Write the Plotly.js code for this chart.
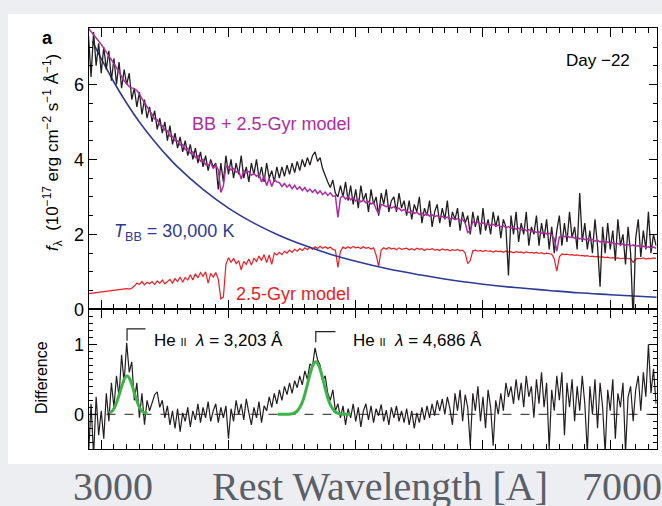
<!DOCTYPE html>
<html>
<head>
<meta charset="utf-8">
<script src="https://cdn.plot.ly/plotly-3.0.1.min.js"></script>
<style>html,body{margin:0;padding:0;background:#eceef2;}#chart{width:662px;height:506px;}</style>
</head>
<body>
<div id="chart"></div>
<script>
// ---- data ----
const wlStart = 2900, wlStep = 20;   // rest wavelength grid (Å)

const observedFlux = [
 7.3, 6.2, 7.4, 6.5, 7.1, 6.3, 7.0, 6.4, 6.9, 6.1, 6.7, 6.0, 6.6, 5.9, 6.4, 6.0, 6.3, 5.6, 5.9, 5.4, 5.8, 5.2, 5.6, 5.1, 5.4,
 5.0, 5.3, 4.8, 5.1, 4.7, 5.0, 4.5, 4.9, 4.4, 4.7, 4.3, 4.6, 4.2, 4.5, 4.1, 4.4, 4.0, 4.3, 3.9, 4.2, 3.8, 4.1, 3.7, 4.0, 3.8,
 3.9, 3.2, 3.9, 3.4, 4.1, 3.6, 4.0, 3.5, 3.9, 3.6, 4.1, 3.5, 3.8, 3.4, 3.9, 3.6, 4.0, 3.5, 3.8, 3.4, 3.9, 3.5, 3.7, 3.4, 3.8,
 3.5, 3.8, 3.55, 3.85, 3.6, 3.9, 3.65, 3.95, 3.7, 4.0, 3.8, 4.05, 3.85, 4.1, 4.2, 3.95, 4.05, 3.75, 3.55, 3.4, 3.25, 3.45, 3.1, 3.0, 3.3,
 3.0, 3.4, 2.9, 3.3, 2.8, 3.2, 2.7, 3.3, 2.9, 3.1, 2.6, 3.2, 2.8, 3.0, 2.5, 3.1, 2.8, 3.2, 2.6, 2.9, 3.0, 2.6, 3.1, 2.7, 2.9,
 2.5, 2.9, 2.4, 2.8, 2.6, 3.0, 2.3, 2.7, 2.5, 2.9, 2.2, 2.6, 2.8, 2.3, 2.7, 2.4, 2.9, 2.2, 2.6, 2.4, 2.7, 2.1, 2.6, 2.3, 2.5,
 2.0, 2.6, 2.2, 2.5, 2.0, 2.7, 2.1, 2.4, 2.0, 2.6, 2.2, 2.5, 1.9, 2.4, 2.2, 0.9, 2.5, 2.0, 2.6, 1.8, 2.3, 2.0, 2.6, 1.7, 2.2,
 2.0, 2.5, 1.7, 2.3, 1.9, 2.4, 1.6, 2.2, 1.5, 2.1, 2.5, 1.7, 2.3, 1.8, 2.6, 1.9, 2.2, 1.6, 3.1, 1.8, 2.3, 1.6, 2.1, 1.5, 2.4,
 1.7, 0.6, 2.2, 1.5, 2.3, 1.6, 2.1, 1.3, 2.4, 1.7, 2.0, 1.2, 2.2, 1.5, -0.3, 1.9, 2.4, 1.4, 2.1, 1.6, 2.6, 1.5, 2.0, 1.7
];

const bbPlusStarFlux = [
 7.50, 7.42, 7.33, 7.25, 7.16, 7.07, 6.97, 6.87, 6.77, 6.67, 6.56, 6.45, 6.33, 6.21, 6.10, 6.02, 5.94, 5.91, 5.89, 5.84, 5.75, 5.62, 5.50, 5.38, 5.30,
 5.20, 5.08, 5.06, 4.92, 4.90, 4.78, 4.76, 4.62, 4.62, 4.50, 4.50, 4.38, 4.40, 4.26, 4.30, 4.16, 4.20, 4.05, 4.10, 3.95, 4.00, 3.86, 3.84, 3.92, 3.76,
 3.85, 3.72, 3.12, 3.30, 3.82, 3.80, 3.72, 3.76, 3.66, 3.70, 3.48, 3.70, 3.64, 3.68, 3.58, 3.62, 3.55, 3.60, 3.40, 3.55, 3.30, 3.50, 3.28, 3.46, 3.40,
 3.38, 3.28, 3.36, 3.26, 3.33, 3.22, 3.31, 3.20, 3.27, 3.17, 3.25, 3.14, 3.21, 3.12, 3.19, 3.09, 3.16, 3.06, 3.13, 3.04, 3.11, 3.02, 3.03, 2.45, 2.98,
 3.03, 2.94, 3.01, 2.92, 2.98, 2.89, 2.94, 2.87, 2.91, 2.84, 2.88, 2.81, 2.85, 2.68, 2.55, 2.80, 2.78, 2.74, 2.78, 2.70, 2.74, 2.67, 2.70, 2.63, 2.66,
 2.62, 2.58, 2.63, 2.56, 2.59, 2.53, 2.57, 2.51, 2.55, 2.49, 2.52, 2.47, 2.50, 2.45, 2.48, 2.43, 2.46, 2.41, 2.44, 2.39, 2.42, 2.37, 2.40, 2.30, 2.05,
 2.10, 2.34, 2.30, 2.33, 2.28, 2.31, 2.26, 2.29, 2.24, 2.27, 2.22, 2.25, 2.20, 2.23, 2.18, 2.21, 2.16, 2.19, 2.14, 2.17, 2.12, 2.15, 2.10, 2.13, 2.08,
 2.09, 2.05, 2.07, 2.03, 2.05, 2.01, 2.03, 1.99, 1.88, 1.55, 1.93, 1.97, 1.94, 1.96, 1.92, 1.94, 1.90, 1.92, 1.88, 1.90, 1.86, 1.88, 1.84, 1.86, 1.82,
 1.84, 1.80, 1.82, 1.78, 1.80, 1.76, 1.78, 1.74, 1.76, 1.72, 1.75, 1.71, 1.73, 1.69, 1.72, 1.68, 1.70, 1.66, 1.69, 1.65, 1.67, 1.64, 1.66, 1.63
];

const starModelFlux = [
 0.42, 0.43, 0.44, 0.45, 0.46, 0.47, 0.48, 0.49, 0.50, 0.50, 0.51, 0.52, 0.52, 0.53, 0.54, 0.55, 0.54, 0.56, 0.62, 0.70, 0.66, 0.74, 0.65, 0.72, 0.68,
 0.74, 0.66, 0.76, 0.69, 0.78, 0.68, 0.75, 0.80, 0.70, 0.82, 0.74, 0.86, 0.72, 0.85, 0.78, 0.92, 0.78, 0.95, 0.84, 0.98, 0.88, 1.00, 0.70, 0.96, 0.86,
 0.98, 0.80, 0.28, 0.33, 1.20, 1.38, 1.25, 1.36, 1.22, 1.30, 1.05, 1.28, 1.20, 1.34, 1.18, 1.36, 1.28, 1.42, 1.30, 1.46, 1.25, 1.45, 1.20, 1.50, 1.45,
 1.52, 1.46, 1.55, 1.50, 1.58, 1.52, 1.60, 1.55, 1.62, 1.57, 1.64, 1.59, 1.66, 1.60, 1.67, 1.62, 1.68, 1.63, 1.67, 1.62, 1.66, 1.60, 1.58, 1.12, 1.55,
 1.66, 1.62, 1.67, 1.63, 1.68, 1.64, 1.66, 1.62, 1.67, 1.63, 1.65, 1.61, 1.64, 1.45, 1.15, 1.58, 1.64, 1.60, 1.65, 1.61, 1.63, 1.59, 1.64, 1.60, 1.62,
 1.63, 1.59, 1.62, 1.58, 1.63, 1.60, 1.62, 1.57, 1.61, 1.59, 1.62, 1.58, 1.60, 1.57, 1.61, 1.58, 1.60, 1.56, 1.59, 1.57, 1.60, 1.56, 1.58, 1.50, 1.22,
 1.30, 1.56, 1.58, 1.55, 1.57, 1.54, 1.57, 1.55, 1.56, 1.53, 1.56, 1.54, 1.55, 1.52, 1.55, 1.53, 1.54, 1.51, 1.54, 1.52, 1.53, 1.50, 1.53, 1.51, 1.52,
 1.50, 1.52, 1.49, 1.51, 1.48, 1.50, 1.48, 1.47, 1.35, 1.02, 1.40, 1.48, 1.46, 1.47, 1.45, 1.46, 1.44, 1.45, 1.43, 1.44, 1.42, 1.43, 1.41, 1.42, 1.40,
 1.41, 1.39, 1.40, 1.38, 1.39, 1.37, 1.38, 1.36, 1.37, 1.35, 1.36, 1.37, 1.35, 1.36, 1.25, 1.34, 1.36, 1.35, 1.37, 1.34, 1.36, 1.35, 1.37, 1.36
];

const differenceFlux = [
 -0.6, 0.15, -0.6, 0.25, -0.3, 0.05, -0.35, 0.30, -0.10, 0.45, 0.10, 0.55, 0.25, 0.85, 0.45, 1.02, 0.60, 0.75, 0.20, 0.45, -0.05, 0.30, -0.15, 0.20, 0.05,
 0.15, 0.28, 0.32, 0.10, 0.20, -0.05, 0.12, -0.15, 0.05, -0.20, 0.08, -0.25, 0.02, -0.10, 0.10, -0.18, 0.05, -0.08, 0.15, -0.12, 0.10, -0.05, 0.18, -0.10, 0.05,
 0.15, -0.12, 0.10, -0.05, 0.12, -0.35, 0.08, -0.10, 0.20, 0.00, 0.15, -0.08, 0.22, 0.02, -0.15, 0.10, -0.05, 0.18, -0.12, 0.12, 0.05, 0.25, 0.10, 0.30, 0.15,
 0.35, 0.20, 0.40, 0.28, 0.45, 0.30, 0.48, 0.38, 0.55, 0.42, 0.62, 0.50, 0.72, 0.68, 0.95, 0.78, 0.70, 0.48, 0.55, 0.30, 0.20, 0.35, 0.05, 0.15, -0.05,
 0.12, -0.15, 0.08, -0.05, 0.15, -0.10, 0.10, -0.18, 0.05, 0.15, -0.08, 0.12, -0.12, 0.08, -0.02, 0.14, -0.10, 0.06, -0.15, 0.10, -0.05, 0.12, -0.10, 0.05, -0.12,
 0.08, -0.15, 0.05, -0.20, 0.02, -0.12, 0.10, -0.08, 0.12, -0.05, 0.15, -0.02, 0.20, 0.05, 0.22, 0.00, 0.25, 0.08, -0.15, 0.30, 0.05, 0.35, -0.10, 0.28, 0.10,
 -0.45, 0.30, 0.05, 0.40, -0.10, 0.25, -0.20, 0.35, 0.10, -0.45, 0.20, 0.00, 0.30, 0.05, 0.45, 0.25, 0.40, 0.15, 0.50, 0.20, 0.45, 0.10, 0.55, 0.25, 0.40,
 -0.05, 0.50, 0.15, 0.60, 0.10, 0.45, -0.50, 0.35, 0.05, 0.55, 0.20, 0.60, -0.30, 0.45, 0.10, 0.50, -0.10, 0.40, 0.05, 0.55, 0.15, -0.55, 0.40, 0.00, 0.50,
 -0.20, 0.45, 0.10, -0.55, 0.35, 0.05, 0.50, -0.35, 0.30, 0.10, 0.45, -0.55, 0.25, 0.40, -0.10, 0.35, 0.55, 0.05, 0.60, 0.25, 1.00, 0.30, 0.65, 0.15
];

// T_BB = 30,000 K blackbody curve
const bbWl   = [2930, 3000, 3100, 3200, 3300, 3400, 3500, 3600, 3800, 4000, 4200, 4400, 4600, 4800, 5000, 5250, 5500, 5750, 6000, 6250, 6500, 6750, 7000, 7365];
const bbFlux = [7.15, 6.69, 6.06, 5.50, 5.00, 4.56, 4.16, 3.80, 3.20, 2.70, 2.30, 1.97, 1.70, 1.47, 1.28, 1.08, 0.92, 0.78, 0.67, 0.58, 0.51, 0.44, 0.39, 0.32];

// He II Gaussian fits
const heLines = [3203, 4686];
const heLabels = ['He <span style="font-size:11px">II</span>  <i>λ</i> = 3,203 Å', 'He <span style="font-size:11px">II</span>  <i>λ</i> = 4,686 Å'];
const fit1Wl  = [3063, 3083, 3103, 3123, 3143, 3163, 3183, 3203, 3223, 3243, 3263, 3283, 3303, 3323, 3343, 3363];
const fit1Amp = [0.02, 0.04, 0.09, 0.18, 0.29, 0.41, 0.51, 0.55, 0.51, 0.41, 0.29, 0.18, 0.09, 0.04, 0.02, 0.01];
const fit2Wl  = [4386, 4436, 4486, 4511, 4536, 4561, 4586, 4611, 4636, 4661, 4686, 4711, 4736, 4761, 4786, 4811, 4836, 4861, 4886, 4936, 4960];
const fit2Amp = [0.00, 0.00, 0.004, 0.014, 0.04, 0.10, 0.20, 0.36, 0.54, 0.69, 0.75, 0.69, 0.54, 0.36, 0.20, 0.10, 0.04, 0.014, 0.004, 0.00, 0.00];

const outerTickLabels = ['3000', '7000'];
const outerTitle = 'Rest Wavelength [A]';

// ---- build ----
const wl = observedFlux.map((_, i) => wlStart + i * wlStep);
const W = 662, H = 506;
const PX = x => x / W, PY = y => 1 - y / H;
const SANS = 'Liberation Sans, Arial, sans-serif';
const SERIF = 'Liberation Serif, Times New Roman, serif';
const C = {black:'#231f20', mag:'#ad2ca2', red:'#ed1c24', blue:'#2e3a96', green:'#3cb44a'};

const data = [
  {x: wl, y: starModelFlux, xaxis:'x', yaxis:'y', mode:'lines', line:{color:C.red, width:1.2}},
  {x: bbWl, y: bbFlux, xaxis:'x', yaxis:'y', mode:'lines', line:{color:C.blue, width:1.6, shape:'spline'}},
  {x: wl, y: observedFlux, xaxis:'x', yaxis:'y', mode:'lines', line:{color:C.black, width:1.3}},
  {x: wl, y: bbPlusStarFlux, xaxis:'x', yaxis:'y', mode:'lines', line:{color:C.mag, width:1.5}},
  {x: wl, y: differenceFlux, xaxis:'x2', yaxis:'y2', mode:'lines', line:{color:C.black, width:1.2}},
  {x: fit1Wl, y: fit1Amp, xaxis:'x2', yaxis:'y2', mode:'lines', line:{color:C.green, width:3, shape:'spline'}},
  {x: fit2Wl, y: fit2Amp, xaxis:'x2', yaxis:'y2', mode:'lines', line:{color:C.green, width:3, shape:'spline'}}
];

const xCommon = {
  range:[2900, 7365], domain:[PX(88.5), PX(656.7)], showgrid:false, zeroline:false,
  showline:true, linecolor:'#000', linewidth:1, mirror:'allticks',
  ticks:'inside', ticklen:9, tickwidth:1, tickcolor:'#000', dtick:1000, tick0:0,
  showticklabels:false, automargin:false,
  minor:{ticks:'inside', ticklen:5, tickwidth:1, tickcolor:'#000', dtick:100, tick0:0, showgrid:false}
};
const yCommon = {
  showgrid:false, zeroline:false, showline:true, linecolor:'#000', linewidth:1, mirror:'allticks',
  ticks:'inside', tickwidth:1, tickcolor:'#000', automargin:false,
  tickfont:{family:SANS, size:18, color:'#000'}
};

const shapes = [
  {type:'rect', xref:'paper', yref:'paper', x0:PX(8), x1:1, y0:PY(464), y1:PY(14), fillcolor:'#ffffff', line:{width:0}, layer:'below'},
  {type:'line', xref:'x2', yref:'y2', x0:2900, x1:7365, y0:0, y1:0, line:{color:'#222', width:1, dash:'dash'}, layer:'below'},
  {type:'path', xref:'x2', yref:'y2', path:`M ${heLines[0]},1.05 L ${heLines[0]},1.22 L ${heLines[0]+145},1.22`, line:{color:'#222', width:1.2}},
  {type:'path', xref:'x2', yref:'y2', path:`M ${heLines[1]},1.03 L ${heLines[1]},1.18 L ${heLines[1]+155},1.18`, line:{color:'#222', width:1.2}}
];

const ann = (text, x, y, opts) => Object.assign({text, x:PX(x), y:PY(y), xref:'paper', yref:'paper', showarrow:false, xanchor:'left', yanchor:'middle', font:{family:SANS, size:18, color:'#000'}}, opts || {});

const annotations = [
  ann('<b>a</b>', 47, 38, {xanchor:'center'}),
  ann('<i>f</i><sub>λ</sub>  (10<sup>−17</sup> erg cm<sup>−2</sup> s<sup>−1</sup> Å<sup>−1</sup>)', 52, 153, {xanchor:'center', textangle:-90, font:{family:SANS, size:17, color:'#000'}}),
  ann('Difference', 41, 378, {xanchor:'center', textangle:-90, font:{family:SANS, size:16, color:'#000'}}),
  ann('BB + 2.5-Gyr model', 190, 123.5, {font:{family:SANS, size:18, color:C.mag}}),
  ann('<i>T</i><sub>BB</sub> = 30,000 K', 112, 232, {font:{family:SANS, size:18, color:C.blue}}),
  ann('2.5-Gyr model', 234, 294, {font:{family:SANS, size:18, color:C.red}}),
  ann('Day −22', 564, 61, {font:{family:SANS, size:17, color:'#000'}}),
  ann(heLabels[0], 152, 340, {font:{family:SANS, size:17, color:'#000'}}),
  ann(heLabels[1], 351, 340, {font:{family:SANS, size:17, color:'#000'}}),
  ann(outerTickLabels[0], 113, 486, {xanchor:'center', font:{family:SERIF, size:40, color:'#5b5f66'}}),
  ann(outerTitle, 380, 486, {xanchor:'center', font:{family:SERIF, size:40, color:'#5b5f66'}}),
  ann(outerTickLabels[1], 622, 486, {xanchor:'center', font:{family:SERIF, size:40, color:'#5b5f66'}})
];

const layout = {
  width:W, height:H, autosize:false,
  margin:{l:0, r:0, t:0, b:0, pad:0},
  paper_bgcolor:'#eceef2', plot_bgcolor:'rgba(0,0,0,0)',
  showlegend:false,
  xaxis: Object.assign({}, xCommon, {anchor:'y'}),
  xaxis2: Object.assign({}, xCommon, {anchor:'y2', matches:'x'}),
  yaxis: Object.assign({}, yCommon, {anchor:'x', domain:[PY(309.3), PY(28.3)], range:[0, 7.5], dtick:2, tick0:0, ticklen:8,
    minor:{ticks:'inside', ticklen:4, tickwidth:1, tickcolor:'#000', dtick:0.5, tick0:0, showgrid:false}}),
  yaxis2: Object.assign({}, yCommon, {anchor:'x2', domain:[PY(449.3), PY(309.3)], range:[-0.5, 1.5], dtick:1, tick0:0, ticklen:8,
    minor:{ticks:'inside', ticklen:4, tickwidth:1, tickcolor:'#000', dtick:0.1, tick0:0, showgrid:false}}),
  shapes, annotations
};

Plotly.newPlot('chart', data, layout, {staticPlot:true, displayModeBar:false});
</script>
</body>
</html>
